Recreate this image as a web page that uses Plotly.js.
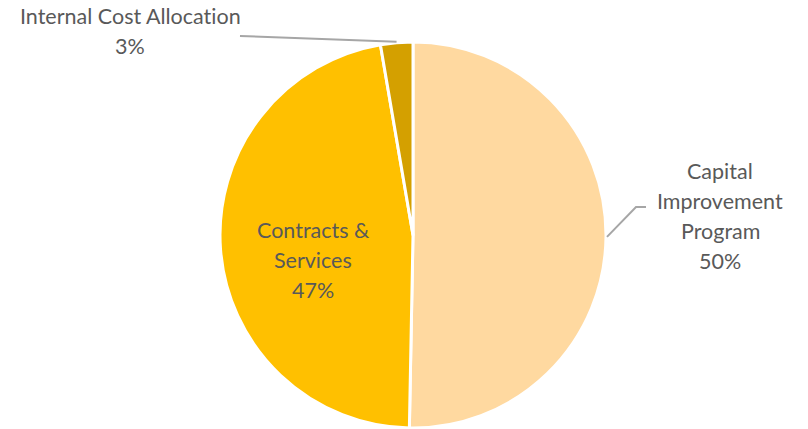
<!DOCTYPE html>
<html>
<head>
<meta charset="utf-8">
<script src="https://cdn.plot.ly/plotly-3.0.1.min.js"></script>
<style>html,body{margin:0;padding:0;background:#fff;}#chart{width:808px;height:429px;}
svg text{font-variant-ligatures:none;font-feature-settings:"liga" 0,"clig" 0;}</style>
</head>
<body>
<div id="chart"></div>
<script>
// ---- data ----
const categories = ['Capital Improvement Program', 'Contracts & Services', 'Internal Cost Allocation'];
const values = [50.3, 47.0, 2.7];
const labelLines = [
  ['Capital', 'Improvement', 'Program'],
  ['Contracts &', 'Services'],
  ['Internal Cost Allocation']
];
const sliceColors = ['#FFD9A0', '#FFC000', '#D4A000'];

// ---- layout geometry ----
const W = 808, H = 429;
const cx = 413, cy = 235, R = 193;
const font = 'Lato, "Open Sans", sans-serif';
const fontSize = 21.5;
const textColor = '#595959';
const lineGap = 30;
const leaderColor = '#A6A6A6';

const px2x = x => x / W;
const px2y = y => 1 - y / H;

const total = values.reduce((a, b) => a + b, 0);
const pcts = values.map(v => Math.round(v / total * 100) + '%');
// mid angles (clockwise from 12 o'clock)
let acc = 0;
const mids = values.map(v => { const m = (acc + v / 2) / total * 2 * Math.PI; acc += v; return m; });
const edgePt = (ang, r) => [cx + r * Math.sin(ang), cy - r * Math.cos(ang)];

// label blocks: [center x, center y] in px
const labelCenters = [
  [720, 216],
  [313, 260],
  [130, 31]
];

const annotations = [];
function addBlock(lines, centerX, centerY) {
  const n = lines.length;
  lines.forEach((t, i) => {
    annotations.push({
      xref: 'paper', yref: 'paper',
      x: px2x(centerX), y: px2y(centerY + (i - (n - 1) / 2) * lineGap),
      text: t, showarrow: false,
      font: {family: font, size: fontSize, color: textColor},
      xanchor: 'center', yanchor: 'middle'
    });
  });
}
values.forEach((v, i) => {
  const lines = labelLines[i].concat([pcts[i]]);
  addBlock(lines, labelCenters[i][0], labelCenters[i][1]);
});

// leader lines
const shapes = [];
function leader(points) {
  let d = 'M ' + points.map(p => px2x(p[0]) + ',' + px2y(p[1])).join(' L ');
  shapes.push({type: 'path', xref: 'paper', yref: 'paper', path: d,
    line: {color: leaderColor, width: 2}});
}
{
  const t = edgePt(mids[0], R + 1);
  leader([t, [636, 207], [646, 207]]);
  const t2 = edgePt(mids[2], R + 1);
  leader([t2, [240, 36]]);
}

const trace = {
  type: 'pie',
  labels: categories,
  values: values,
  sort: false,
  direction: 'clockwise',
  rotation: 0,
  textinfo: 'none',
  hoverinfo: 'label+percent',
  marker: {colors: sliceColors, line: {color: '#FFFFFF', width: 3}},
  domain: {x: [px2x(cx - R), px2x(cx + R)], y: [px2y(cy + R), px2y(cy - R)]},
  showlegend: false
};

Plotly.newPlot('chart', [trace], {
  width: W, height: H,
  margin: {l: 0, r: 0, t: 0, b: 0},
  paper_bgcolor: '#FFFFFF',
  showlegend: false,
  annotations: annotations,
  shapes: shapes
}, {displayModeBar: false, staticPlot: true});
</script>
</body>
</html>
